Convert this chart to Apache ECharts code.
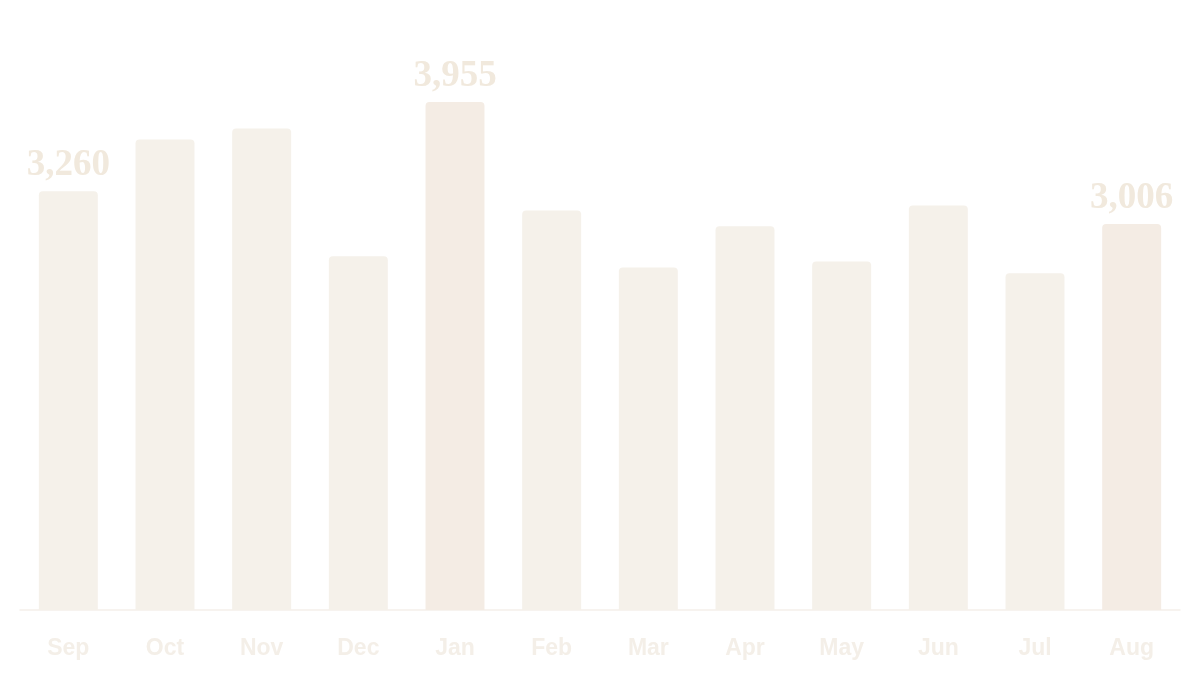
<!DOCTYPE html>
<html>
<head>
<meta charset="utf-8">
<style>
  html, body { margin: 0; padding: 0; background: #ffffff; }
  #chart { width: 1200px; height: 700px; }
</style>
<script src="https://cdn.jsdelivr.net/npm/echarts@6/dist/echarts.min.js"></script>
</head>
<body>
<div id="chart"></div>
<script>
var months = ['Sep', 'Oct', 'Nov', 'Dec', 'Jan', 'Feb', 'Mar', 'Apr', 'May', 'Jun', 'Jul', 'Aug'];
var values = [3260, 3664, 3748, 2755, 3955, 3111, 2667, 2987, 2714, 3150, 2621, 3006];
var highlighted = ['Jan', 'Aug'];
var labelled = ['Sep', 'Jan', 'Aug'];

var barColor = '#f5f1ea';
var hiColor = '#f4ece4';
var labelColor = '#f1e9dd';

var chart = echarts.init(document.getElementById('chart'), null, { renderer: 'canvas' });

var seriesData = values.map(function(v, i) {
  var m = months[i];
  return {
    value: v,
    itemStyle: { color: highlighted.indexOf(m) >= 0 ? hiColor : barColor },
    label: { show: labelled.indexOf(m) >= 0 }
  };
});

chart.setOption({
  animation: false,
  backgroundColor: '#ffffff',
  grid: { left: 20, right: 20, top: 32, bottom: 90 },
  xAxis: {
    type: 'category',
    data: months,
    axisLine: { lineStyle: { color: '#f5f0ea', width: 1.5 } },
    axisTick: { show: false },
    axisLabel: {
      color: '#f4efe8',
      fontSize: 23,
      fontWeight: 'bold',
      fontFamily: 'Liberation Sans, Arial, sans-serif',
      margin: 27
    }
  },
  yAxis: {
    type: 'value',
    min: 0,
    max: 4500,
    show: false,
    splitLine: { show: false }
  },
  series: [{
    type: 'bar',
    data: seriesData,
    barWidth: '61%',
    itemStyle: { borderRadius: [4, 4, 0, 0] },
    label: {
      position: 'top',
      distance: 7,
      color: labelColor,
      fontSize: 37,
      fontWeight: 'bold',
      fontFamily: 'Liberation Serif, serif',
      formatter: function(p) { return p.value.toLocaleString('en-US'); }
    }
  }]
});
</script>
</body>
</html>
